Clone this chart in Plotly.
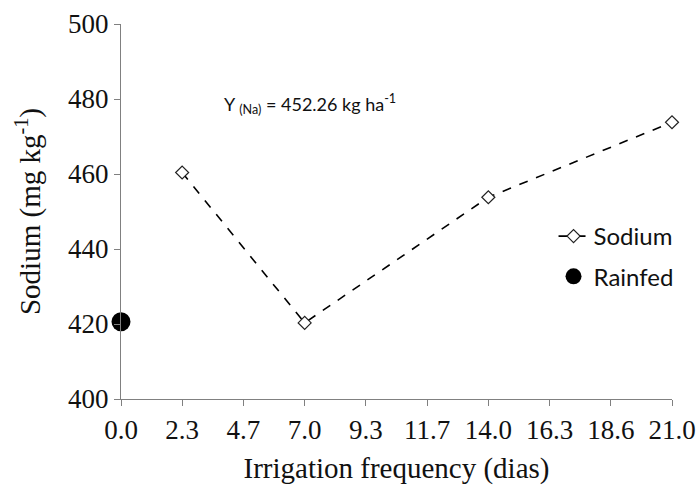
import plotly.graph_objects as go

# Data
freq_x = [2.33, 7.0, 14.0, 21.0]
sodium_y = [460.4, 420.3, 453.8, 473.8]
rainfed_x = [0.0]
rainfed_y = [420.6]
tick_vals = [0.0, 2.333, 4.667, 7.0, 9.333, 11.667, 14.0, 16.333, 18.667, 21.0]
tick_text = ["0.0", "2.3", "4.7", "7.0", "9.3", "11.7", "14.0", "16.3", "18.6", "21.0"]
y_ticks = [400, 420, 440, 460, 480, 500]

fig = go.Figure()
fig.add_trace(go.Scatter(
    x=freq_x, y=sodium_y, mode="lines+markers", name="Sodium",
    line=dict(color="black", width=1.6, dash="dash"),
    marker=dict(symbol="diamond", size=10, color="white",
                line=dict(color="#222222", width=1.2)),
    cliponaxis=False, legendgroup="a",
))
fig.add_trace(go.Scatter(
    x=rainfed_x, y=rainfed_y, mode="markers", name="Rainfed",
    marker=dict(symbol="circle", size=19, color="black"),
    cliponaxis=False, legendgroup="b",
))

tick_font = dict(family="Liberation Serif", size=27, color="#111111")
title_font = dict(family="Liberation Serif", size=29, color="#111111")
fig.update_layout(
    width=698, height=490,
    margin=dict(l=121, r=26, t=24, b=91),
    paper_bgcolor="white", plot_bgcolor="white",
    showlegend=True,
    legend=dict(x=0.785, y=0.38, xanchor="left", yanchor="middle",
                font=dict(family="Lato", size=24, color="#111111"),
                bgcolor="rgba(0,0,0,0)", tracegroupgap=6,
                traceorder="grouped"),
    xaxis=dict(range=[0, 21], tickvals=tick_vals, ticktext=tick_text,
               showline=True, linecolor="#808080", linewidth=1.2,
               ticks="outside", ticklen=6, tickcolor="#808080",
               showgrid=False, zeroline=False, tickfont=tick_font,
               automargin=False,
               title=dict(text="Irrigation frequency (dias)", font=title_font, standoff=14)),
    yaxis=dict(range=[400, 500], tickvals=y_ticks,
               showline=True, linecolor="#808080", linewidth=1.2,
               ticks="outside", ticklen=6, tickcolor="#808080",
               showgrid=False, zeroline=False, tickfont=tick_font,
               automargin=False,
               title=dict(text="Sodium (mg kg<sup>-1</sup>)", font=title_font, standoff=18)),
    annotations=[dict(
        text="Y <sub>(Na)</sub> = 452.26 kg ha<sup>-1</sup>",
        xref="paper", yref="paper", x=0.343, y=0.827,
        showarrow=False, font=dict(family="Lato", size=18, color="#111111"),
    )],
)

fig.write_html("out.html", config={"displayModeBar": False},
               post_script="document.body.style.margin='0px';")
